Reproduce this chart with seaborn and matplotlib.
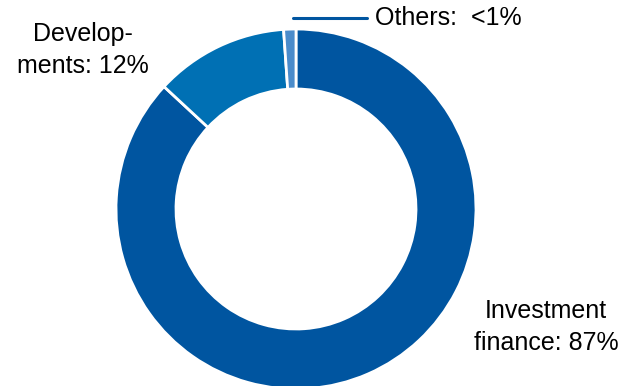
import numpy as np
import seaborn as sns
import matplotlib.pyplot as plt

sns.set_theme(style='white')
plt.rcParams['font.family'] = ['Liberation Sans', 'DejaVu Sans']

# Share of portfolio, clockwise from 12 o'clock
segments = ['Investment finance', 'Developments', 'Others']
shares = [86.9, 12.0, 1.1]
colors = ['#0055a0', '#0070b4', '#4a8ccb']

label_texts = ['Investment\nfinance: 87%', 'Develop-\nments: 12%', 'Others:  <1%']

W, H = 623, 386
fig = plt.figure(figsize=(W / 100, H / 100), dpi=100)
ax = fig.add_axes([0, 0, 1, 1])

cx, cy, r = 296, H - 209, 180
wedges, _ = ax.pie(shares, colors=colors, startangle=90, counterclock=False,
                   center=(cx, cy), radius=r, frame=True,
                   wedgeprops=dict(width=60, edgecolor='white', linewidth=2))
ax.set_xlim(0, W)
ax.set_ylim(0, H)
ax.set_aspect('equal')
ax.axis('off')

fs = 18
ax.text(546, H - 327, label_texts[0], ha='center', va='center', fontsize=fs,
        linespacing=1.45, color='black')
ax.text(83, H - 50, label_texts[1], ha='center', va='center', fontsize=fs,
        linespacing=1.45, color='black')
ax.plot([293, 367], [H - 18, H - 18], color='#0055a0', linewidth=2.2)
ax.text(375, H - 18, label_texts[2], ha='left', va='center', fontsize=fs,
        color='black')

fig.savefig('out.png', dpi=100)
